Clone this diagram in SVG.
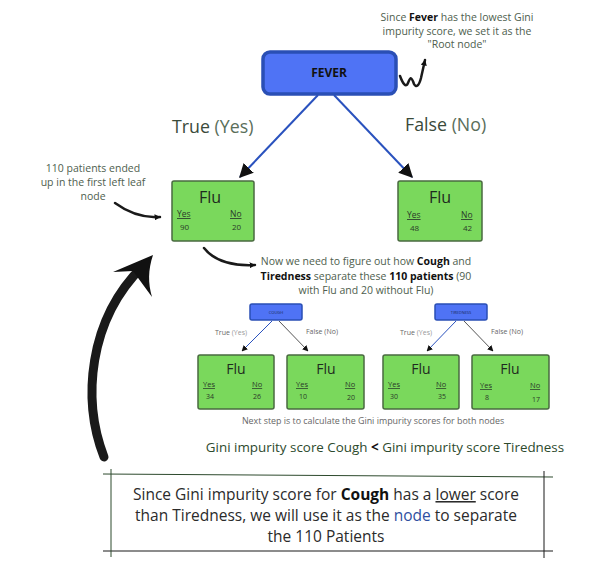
<svg xmlns="http://www.w3.org/2000/svg" width="607" height="585" viewBox="0 0 607 585">
<defs>
<marker id="ah" viewBox="0 0 10 10" refX="9" refY="5" markerWidth="6" markerHeight="6" orient="auto" markerUnits="userSpaceOnUse">
<path d="M0,0 L10,5 L0,10 z" fill="#111"/>
</marker>
<marker id="ahL" viewBox="0 0 10 10" refX="9" refY="5" markerWidth="14" markerHeight="14" orient="auto" markerUnits="userSpaceOnUse">
<path d="M0,0 L10,5 L0,10 z" fill="#111"/>
</marker>
<marker id="ahS" viewBox="0 0 10 10" refX="9" refY="5" markerWidth="6" markerHeight="6" orient="auto" markerUnits="userSpaceOnUse">
<path d="M0,0 L10,5 L0,10 z" fill="#111"/>
</marker>
</defs>
<style>
text{font-family:"Open Sans","Noto Sans","Liberation Sans",sans-serif;}
.blue{fill:#4f73f5;stroke:#2a4fb5;}
.leaf{fill:#7ad85c;stroke:#4a6a40;stroke-width:1.5;}
.note{fill:#4e5e4e;font-size:10.5px;}
.flu{fill:#1f2a1f;text-anchor:middle;}
.yn{fill:#2a3a2a;text-decoration:underline;}
.num{fill:#2a3a2a;}
.edge{stroke:#2a52be;fill:none;}
.sk{stroke:#1a1a1a;fill:none;stroke-linecap:round;}
</style>
<rect width="607" height="585" fill="#fff"/>

<!-- annotation top -->
<text class="note" text-anchor="middle" x="457" y="21">Since <tspan font-weight="bold" fill="#111">Fever</tspan> has the lowest Gini</text>
<text class="note" text-anchor="middle" x="457" y="35">impurity score, we set it as the</text>
<text class="note" text-anchor="middle" x="457" y="48">"Root node"</text>

<g id="connectors">
<path class="sk" stroke-width="2.5" d="M400,76 C403,84 406,88 408,83 C410,78 411,75 414,84 C416,88 419,86 421,78 L425,60" marker-end="url(#ah)"/>
<line class="edge" stroke-width="2" x1="318" y1="95" x2="240" y2="177" marker-end="url(#ahL)"/>
<line class="edge" stroke-width="2" x1="334" y1="95" x2="412" y2="177" marker-end="url(#ahL)"/>
<path class="sk" stroke-width="2.5" d="M115,203 C130,214 145,218 160,217" marker-end="url(#ah)"/>
<path class="sk" stroke-width="2.5" d="M204,248 C215,262 235,266 255,265" marker-end="url(#ah)"/>
<line class="edge" stroke-width="1" x1="272" y1="321" x2="242" y2="351" marker-end="url(#ahS)"/>
<line stroke="#555" stroke-width="1" x1="279" y1="321" x2="308" y2="351" marker-end="url(#ahS)"/>
<line class="edge" stroke-width="1" x1="456" y1="321" x2="427" y2="351" marker-end="url(#ahS)"/>
<line stroke="#555" stroke-width="1" x1="464" y1="321" x2="493" y2="351" marker-end="url(#ahS)"/>
<path class="sk" stroke-width="9" d="M104,457 C82,400 88,320 143,266"/>
<path d="M153,255 L113,272 L133,271 L152,297 C148,283 148,270 153,255 z" fill="#111"/>
</g>

<g id="fever">
<rect class="blue" x="263" y="52" width="133" height="42" rx="7" stroke-width="3.5"/>
<text x="329" y="77" text-anchor="middle" font-size="12" font-weight="bold" fill="#111">FEVER</text>
</g>

<text x="172" y="133" font-size="17.8" fill="#3a4a3a">True <tspan fill="#5a6e5a">(Yes)</tspan></text>
<text x="405" y="131" font-size="17.8" fill="#3a4a3a">False <tspan fill="#5a6e5a">(No)</tspan></text>

<text class="note" text-anchor="middle" x="93" y="172">110 patients ended</text>
<text class="note" text-anchor="middle" x="93" y="186">up in the first left leaf</text>
<text class="note" text-anchor="middle" x="93" y="200">node</text>

<g id="leafL">
<rect class="leaf" x="172" y="181" width="82" height="60" rx="2"/>
<text class="flu" x="210" y="203" font-size="16">Flu</text>
<text class="yn" x="177" y="217" font-size="8.5">Yes</text>
<text class="yn" x="230" y="217" font-size="8.5">No</text>
<text class="num" x="180" y="230" font-size="8">90</text>
<text class="num" x="232" y="230" font-size="8">20</text>
</g>

<g id="leafR">
<rect class="leaf" x="398" y="181" width="84" height="60" rx="2"/>
<text class="flu" x="440" y="203" font-size="16">Flu</text>
<text class="yn" x="407" y="218" font-size="8.5">Yes</text>
<text class="yn" x="461" y="218" font-size="8.5">No</text>
<text class="num" x="410" y="231" font-size="8">48</text>
<text class="num" x="463" y="231" font-size="8">42</text>
</g>

<text class="note" text-anchor="middle" x="366" y="265">Now we need to figure out how <tspan font-weight="bold" fill="#111">Cough</tspan> and</text>
<text class="note" text-anchor="middle" x="366" y="280"><tspan font-weight="bold" fill="#111">Tiredness</tspan> separate these <tspan font-weight="bold" fill="#111">110 patients</tspan> (90</text>
<text class="note" text-anchor="middle" x="366" y="294">with Flu and 20 without Flu)</text>

<g id="cough">
<rect class="blue" x="250" y="304" width="52" height="16" rx="2" stroke-width="1.5"/>
<text x="276" y="314" text-anchor="middle" font-size="4" fill="#1a2a5a">COUGH</text>
</g>
<g id="tiredness">
<rect class="blue" x="435" y="304" width="52" height="16" rx="2" stroke-width="1.5"/>
<text x="461" y="314" text-anchor="middle" font-size="4" fill="#1a2a5a">TIREDNESS</text>
</g>

<text x="215" y="335" font-size="7" fill="#666">True <tspan fill="#999">(Yes)</tspan></text>
<text x="306" y="334" font-size="7" fill="#666">False (No)</text>
<text x="400" y="335" font-size="7" fill="#666">True <tspan fill="#999">(Yes)</tspan></text>
<text x="491" y="334" font-size="7" fill="#666">False (No)</text>

<g id="leaf1">
<rect class="leaf" x="198" y="355" width="76" height="54" rx="2"/>
<text class="flu" x="236" y="374" font-size="14">Flu</text>
<text class="yn" x="203" y="387" font-size="7.5">Yes</text>
<text class="yn" x="252" y="387" font-size="7.5">No</text>
<text class="num" x="206" y="399" font-size="7">34</text>
<text class="num" x="253" y="399" font-size="7">26</text>
</g>
<g id="leaf2">
<rect class="leaf" x="287" y="355" width="77" height="54" rx="2"/>
<text class="flu" x="326" y="374" font-size="14">Flu</text>
<text class="yn" x="296" y="387" font-size="7.5">Yes</text>
<text class="yn" x="345" y="387" font-size="7.5">No</text>
<text class="num" x="299" y="399" font-size="7">10</text>
<text class="num" x="347" y="400" font-size="7">20</text>
</g>
<g id="leaf3">
<rect class="leaf" x="383" y="355" width="76" height="54" rx="2"/>
<text class="flu" x="421" y="374" font-size="14">Flu</text>
<text class="yn" x="388" y="387" font-size="7.5">Yes</text>
<text class="yn" x="436" y="387" font-size="7.5">No</text>
<text class="num" x="390" y="399" font-size="7">30</text>
<text class="num" x="438" y="399" font-size="7">35</text>
</g>
<g id="leaf4">
<rect class="leaf" x="472" y="355" width="77" height="54" rx="2"/>
<text class="flu" x="510" y="374" font-size="14">Flu</text>
<text class="yn" x="480" y="388" font-size="7.5">Yes</text>
<text class="yn" x="530" y="388" font-size="7.5">No</text>
<text class="num" x="485" y="400" font-size="7">8</text>
<text class="num" x="532" y="402" font-size="7">17</text>
</g>

<text text-anchor="middle" x="373" y="424" style="font-size:8.9px;fill:#666">Next step is to calculate the Gini impurity scores for both nodes</text>

<text x="385" y="452" text-anchor="middle" font-size="13.4" fill="#2d4a2d">Gini impurity score Cough <tspan font-weight="bold" fill="#111">&lt;</tspan> Gini impurity score Tiredness</text>

<g id="summary">
<path d="M103,474 L553,477" stroke="#2d4a2d" stroke-width="1" fill="none"/>
<path d="M103,551 L553,551" stroke="#1a1a1a" stroke-width="1.2" fill="none"/>
<path d="M111,469 L111,557" stroke="#2d4a2d" stroke-width="1" fill="none"/>
<path d="M544,471 L544,558" stroke="#1a1a1a" stroke-width="1" fill="none"/>
<text x="326" y="500" text-anchor="middle" font-size="15.5" fill="#2b2b2b">Since Gini impurity score for <tspan font-weight="bold" fill="#111">Cough</tspan> has a <tspan text-decoration="underline">lower</tspan> score</text>
<text x="326" y="521" text-anchor="middle" font-size="15.5" fill="#2b2b2b">than Tiredness, we will use it as the <tspan fill="#2f4fa0">node</tspan> to separate</text>
<text x="326" y="542" text-anchor="middle" font-size="15.5" fill="#2b2b2b">the 110 Patients</text>
</g>
</svg>
